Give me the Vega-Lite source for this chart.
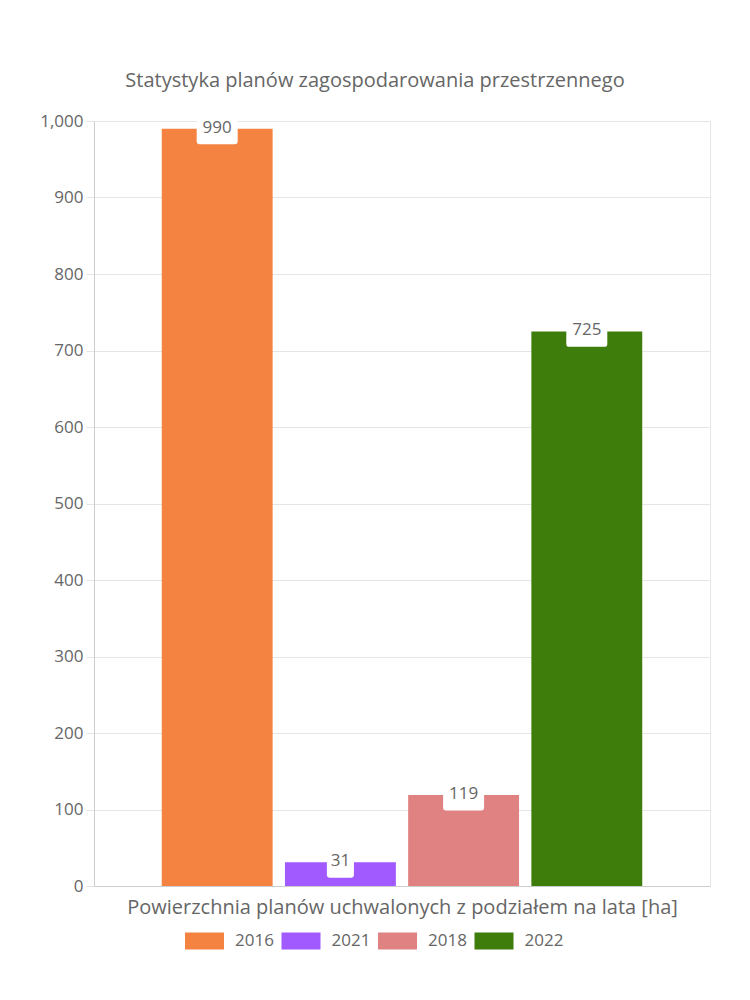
{
  "$schema": "https://vega.github.io/schema/vega-lite/v6.json",
  "autosize": {"type": "none"},
  "width": 616,
  "height": 765,
  "padding": {"left": 94, "top": 121, "right": 40, "bottom": 114},
  "background": "white",
  "title": {
    "text": "Statystyka planów zagospodarowania przestrzennego",
    "fontSize": 20,
    "font": "Open Sans",
    "fontWeight": "normal",
    "color": "#666666",
    "anchor": "middle",
    "baseline": "alphabetic",
    "dx": -27,
    "offset": 5
  },
  "data": {
    "values": [
      {"year": "2016", "value": 990},
      {"year": "2021", "value": 31},
      {"year": "2018", "value": 119},
      {"year": "2022", "value": 725}
    ]
  },
  "config": {
    "font": "Open Sans",
    "view": {"stroke": "#e5e5e5"},
    "axis": {"labelColor": "#666666", "titleColor": "#666666"}
  },
  "encoding": {
    "x": {
      "field": "year",
      "type": "nominal",
      "sort": ["2016", "2021", "2018", "2022"],
      "scale": {"paddingInner": 0.1, "paddingOuter": 0.55},
      "axis": {
        "title": "Powierzchnia planów uchwalonych z podziałem na lata [ha]",
        "labels": false,
        "ticks": false,
        "grid": false,
        "domainColor": "#cccccc",
        "titleFontSize": 20,
        "titleFontWeight": "normal",
        "titlePadding": 11
      }
    },
    "y": {
      "field": "value",
      "type": "quantitative",
      "scale": {"domain": [0, 1000], "nice": false},
      "axis": {
        "title": null,
        "format": ",d",
        "values": [0, 100, 200, 300, 400, 500, 600, 700, 800, 900, 1000],
        "labelOverlap": false,
        "grid": true,
        "gridColor": "#e5e5e5",
        "domainColor": "#cccccc",
        "tickColor": "#e5e5e5",
        "tickSize": 8,
        "labelPadding": 3,
        "labelFontSize": 17
      }
    }
  },
  "layer": [
    {
      "mark": {"type": "bar"},
      "encoding": {
        "color": {
          "field": "year",
          "type": "nominal",
          "sort": ["2016", "2021", "2018", "2022"],
          "scale": {
            "domain": ["2016", "2021", "2018", "2022"],
            "range": ["#f48341", "#a05aff", "#e08282", "#3e7d0c"]
          },
          "legend": {
            "title": null,
            "orient": "none",
            "direction": "horizontal",
            "legendX": 91,
            "legendY": 800,
            "padding": 0,
            "symbolType": "M-1,-0.44 L1,-0.44 L1,0.44 L-1,0.44 Z",
            "symbolSize": 1521,
            "symbolStrokeWidth": 0,
            "symbolOpacity": 1,
            "labelFontSize": 17,
            "labelColor": "#666666",
            "labelOffset": 11,
            "columnPadding": 7.5
          }
        }
      }
    },
    {
      "mark": {"type": "point", "filled": true, "fill": "white", "opacity": 1, "strokeWidth": 0, "size": 1681},
      "encoding": {
        "shape": {
          "condition": {"test": "datum.value < 100", "value": "M-0.66,-0.44 L0.66,-0.44 L0.66,0.61 Q0.66,0.756 0.514,0.756 L-0.514,0.756 Q-0.66,0.756 -0.66,0.61 Z"},
          "value": "M-1,-0.44 L1,-0.44 L1,0.61 Q1,0.756 0.854,0.756 L-0.854,0.756 Q-1,0.756 -1,0.61 Z"
        }
      }
    },
    {
      "mark": {"type": "text", "baseline": "middle", "fontSize": 17, "color": "#666666", "dy": -1},
      "encoding": {
        "text": {"field": "value", "type": "quantitative"}
      }
    }
  ]
}
